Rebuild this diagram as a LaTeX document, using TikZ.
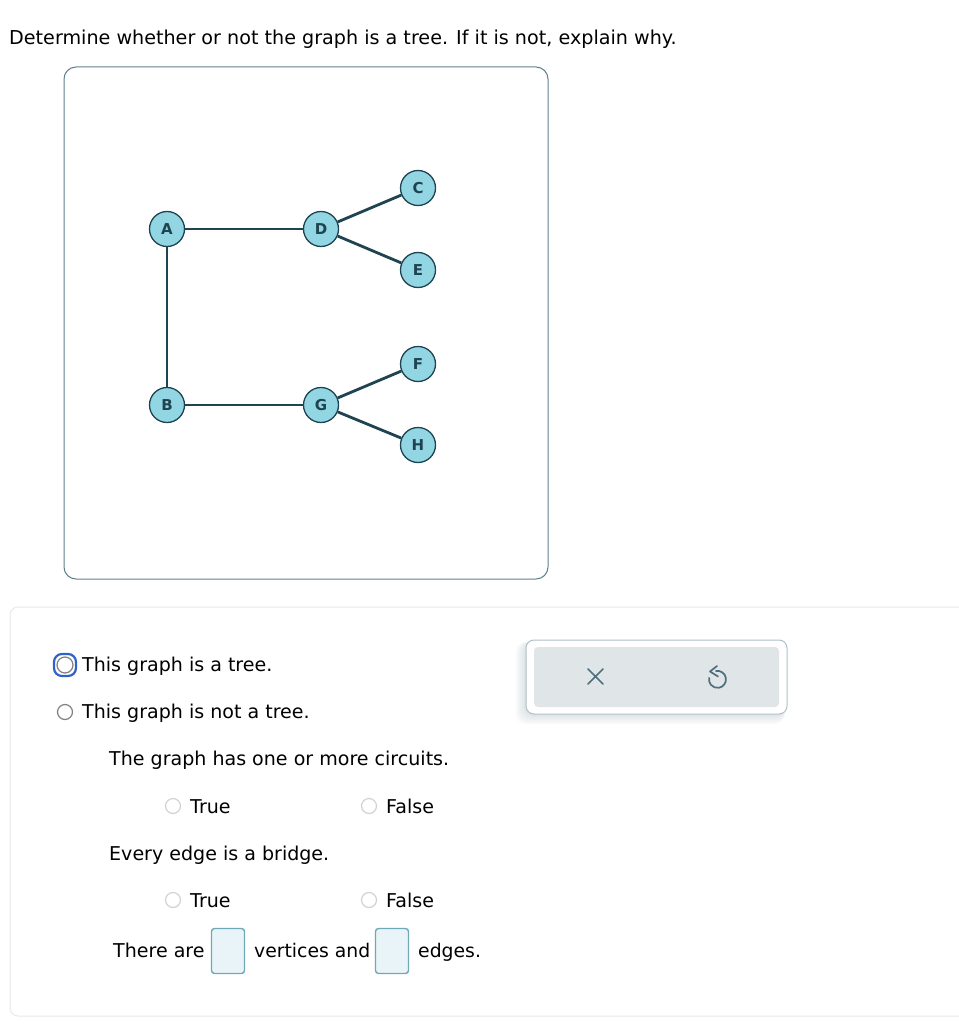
\documentclass[tikz,border=0pt]{standalone}
\usepackage{fontspec}
\setmainfont{DejaVu Sans}
\usetikzlibrary{positioning}
\definecolor{vertexfill}{HTML}{92D6E3}
\definecolor{edgecol}{HTML}{1F4350}
\definecolor{framecol}{HTML}{5F7F8C}
\definecolor{panelcol}{HTML}{E6E8E9}
\definecolor{buttoncol}{HTML}{E0E5E8}
\definecolor{iconcol}{HTML}{4F6F7B}
\definecolor{inputfill}{HTML}{E9F4F9}
\definecolor{inputline}{HTML}{6FA9B8}
\definecolor{focuscol}{HTML}{2F62C8}
\definecolor{groupline}{HTML}{B0C0C6}
\tikzset{
  vertex/.style={circle,draw=edgecol,fill=vertexfill,line width=1.3pt,minimum size=35pt,inner sep=0pt,font=\fontsize{15}{15}\selectfont\bfseries,text=edgecol},
  edgeline/.style={edgecol,line width=2.8pt},
  label/.style={anchor=base west,inner sep=0pt,font=\fontsize{19.05}{20}\selectfont,text=black},
  radio/.style={circle,draw=#1,fill=white,line width=1.2pt,minimum size=15pt,inner sep=0pt},
  inputbox/.style={draw=inputline,fill=inputfill,line width=1.4pt,rounded corners=3pt,minimum width=33pt,minimum height=45pt,inner sep=0pt}
}
\begin{document}
\begin{tikzpicture}[x=1pt,y=-1pt]
  \useasboundingbox (0,0) rectangle (958,1024);
  \node[label,font=\fontsize{19.15}{20}\selectfont] (title) at (9,44.5) {Determine whether or not the graph is a tree. If it is not, explain why.};
  % graph frame
  \draw[framecol,line width=1pt,rounded corners=12pt] (64,67) rectangle (548,579);
  \foreach \name/\x/\y in {A/167/229,D/321/229,C/418/188,E/418/270,B/167/405,G/321/405,F/418/364,H/418/445}
    \node[vertex] (\name) at (\x,\y) {\name};
  \foreach \a/\b in {A/D,A/B,B/G,D/C,D/E,G/F,G/H}
    \draw[edgeline] (\a) -- (\b);
  % answer panel
  \draw[panelcol,line width=1pt,rounded corners=8pt] (975,607) -- (10,607) -- (10,1016) -- (975,1016);
  \node[radio=gray,minimum size=16pt] (r1) at (65,665) {};
  \draw[focuscol,line width=2.2pt,rounded corners=8pt] (54,654) rectangle (76,676);
  \node[radio=gray] (r2) at (65,712) {};
  \node[label] (t1) at (82,671) {This graph is a tree.};
  \node[label] (t2) at (82,718) {This graph is not a tree.};
  \node[label] (q1) at (109,765) {The graph has one or more circuits.};
  \node[label] (q2) at (109,860) {Every edge is a bridge.};
  \foreach \name/\y in {a/806,b/900}{
    \node[radio=gray!35] (tr\name) at (173,\y) {};
    \node[radio=gray!35] (fa\name) at (369,\y) {};
    \node[label] at (190,\y+7) {True};
    \node[label] at (386,\y+7) {False};
  }
  \node[label] (there) at (113,957) {There are};
  \node[inputbox] (box1) at (228,951) {};
  \node[label,font=\fontsize{18.8}{20}\selectfont] (vert) at (254,957) {vertices and};
  \node[inputbox] (box2) at (392,951) {};
  \node[label,font=\fontsize{18.8}{20}\selectfont] (edges) at (418,957) {edges.};
  % button group
  \foreach \i in {10,8,6,4,2}
    \fill[iconcol,opacity=0.04,rounded corners=10pt] (526-\i,642) rectangle (785,714+\i);
  \draw[groupline,fill=white,line width=1pt,rounded corners=8pt] (526,640) rectangle (787,714);
  \fill[buttoncol,rounded corners=4pt] (534,647) rectangle (779,707);
  \draw[iconcol,line width=1.7pt,line cap=round] (588,669) -- (603,684) (603,669) -- (588,684);
  \draw[iconcol,line width=1.7pt,line cap=round] (716,671) arc[start angle=-100,end angle=190,radius=8.5];
  \draw[iconcol,line width=1.7pt,line cap=round,line join=round] (717,666) -- (710,671.5) -- (718,676.5);
\end{tikzpicture}
\end{document}
